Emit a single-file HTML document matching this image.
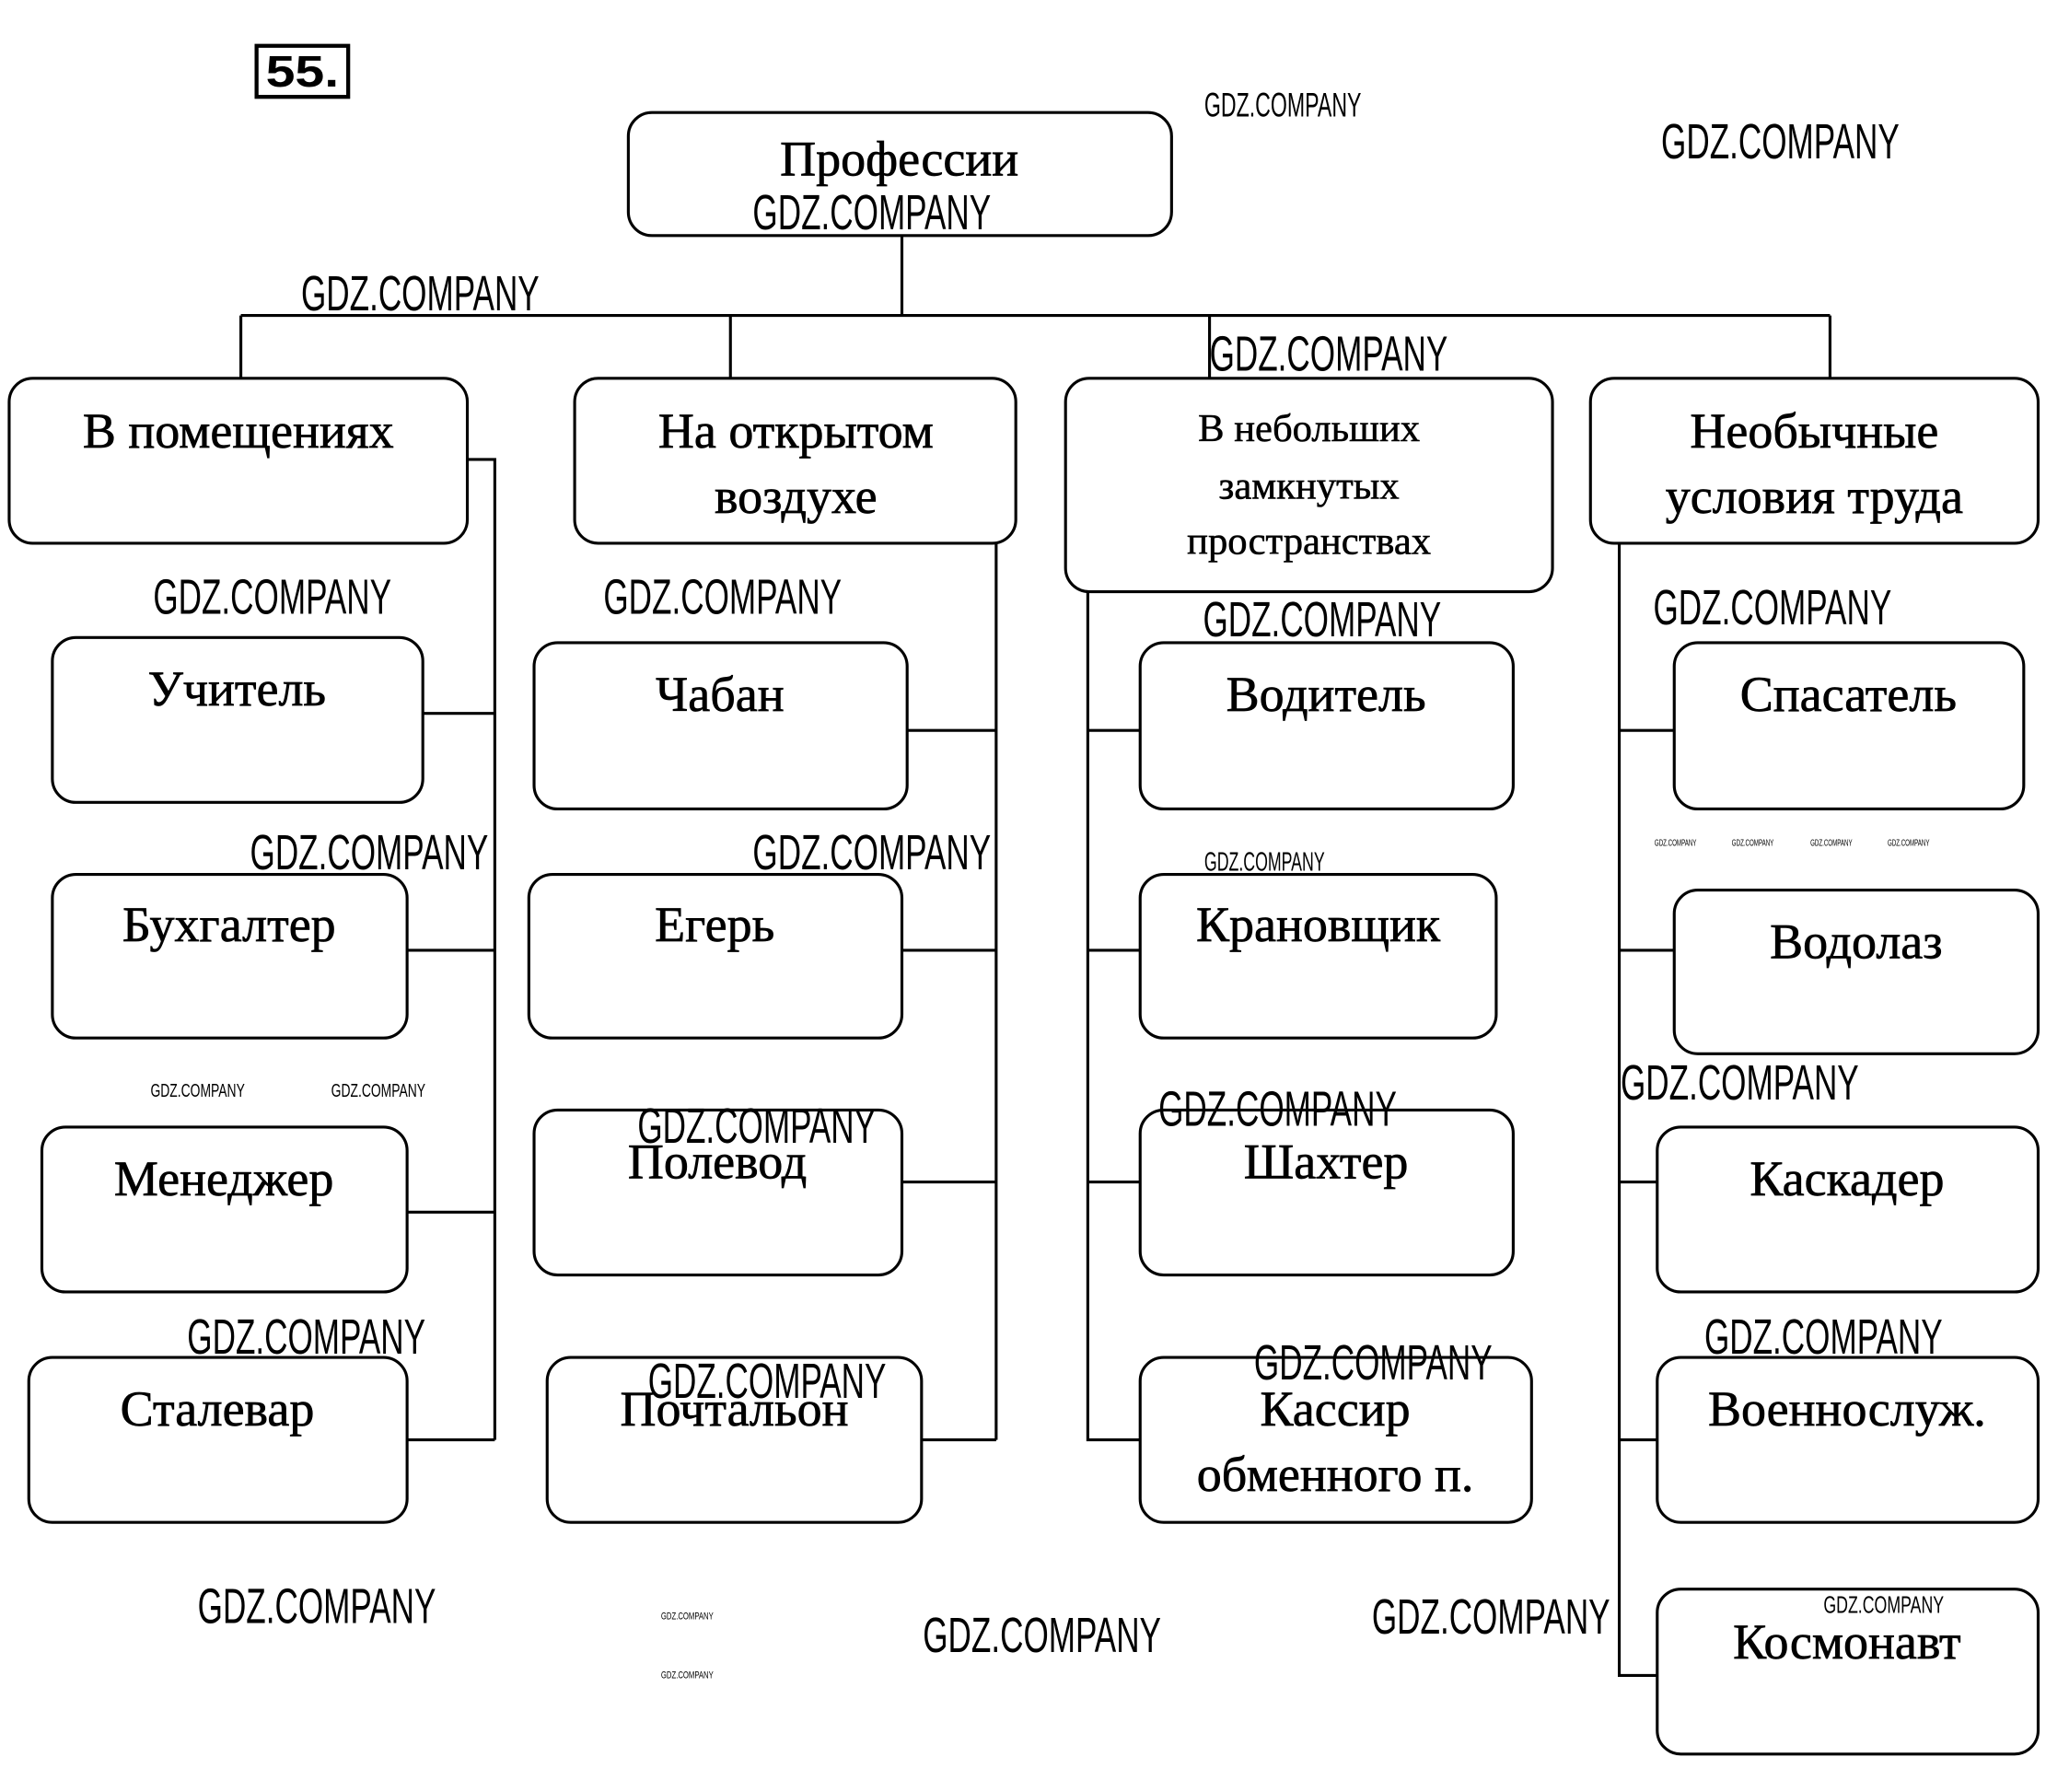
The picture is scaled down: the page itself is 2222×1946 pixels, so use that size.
<!DOCTYPE html>
<html><head><meta charset="utf-8"><style>
html,body{margin:0;padding:0;background:#fff}
svg{display:block}
.b{fill:none;stroke:#000;stroke-width:2.2}
.l{stroke:#000;stroke-width:2.2;fill:none}
.t{font-family:"Liberation Serif",serif;font-size:38px;text-anchor:middle;fill:#000;stroke:#000;stroke-width:0.5}
.c{font-family:"Liberation Serif",serif;font-size:38px;text-anchor:middle;fill:#000;stroke:#000;stroke-width:0.5}
.s{font-family:"Liberation Serif",serif;font-size:30px;text-anchor:middle;fill:#000;stroke:#000;stroke-width:0.4}
.w{font-family:"Liberation Sans",sans-serif;font-size:38px;fill:#000;font-weight:normal}
.ws{font-family:"Liberation Sans",sans-serif;font-size:12px;fill:#000}
</style></head><body>
<svg width="2222" height="1946" viewBox="0 0 1563 1369" preserveAspectRatio="none" xmlns="http://www.w3.org/2000/svg">
<rect x="196" y="35" width="70" height="39" fill="none" stroke="#000" stroke-width="3"/>
<text x="231" y="66" font-family="Liberation Sans,sans-serif" font-size="34" font-weight="bold" text-anchor="middle" textLength="56" lengthAdjust="spacingAndGlyphs">55.</text>

<rect class="b" x="480" y="86" width="415" height="94" rx="18"/>
<text class="t" x="687" y="134">Профессии</text>
<path class="l" d="M689 180V241M184 241H1398M184 241V289M558 241V289M924 241V289M1398 241V289"/>

<rect class="b" x="7" y="289" width="350" height="126" rx="18"/>
<text class="c" x="182" y="342">В помещениях</text>
<rect class="b" x="439" y="289" width="337" height="126" rx="18"/>
<text class="c" x="608" y="342">На открытом</text>
<text class="c" x="608" y="392">воздухе</text>
<rect class="b" x="814" y="289" width="372" height="163" rx="18"/>
<text class="s" x="1000" y="337">В небольших</text>
<text class="s" x="1000" y="381">замкнутых</text>
<text class="s" x="1000" y="423">пространствах</text>
<rect class="b" x="1215" y="289" width="342" height="126" rx="18"/>
<text class="c" x="1386" y="342">Необычные</text>
<text class="c" x="1386" y="392">условия труда</text>

<path class="l" d="M357 351H378V1100M323 545H378M311 726H378M311 926H378M311 1100H378"/>
<path class="l" d="M761 415V1100M693 558H761M689 726H761M689 903H761M704 1100H761"/>
<path class="l" d="M831 452V1100H871M831 558H871M831 726H871M831 903H871"/>
<path class="l" d="M1237 415V1280H1266M1237 558H1279M1237 726H1279M1237 903H1266M1237 1100H1266"/>

<rect class="b" x="40" y="487" width="283" height="126" rx="18"/><text class="c" x="181" y="539">Учитель</text>
<rect class="b" x="40" y="668" width="271" height="125" rx="18"/><text class="c" x="175" y="719">Бухгалтер</text>
<rect class="b" x="32" y="861" width="279" height="126" rx="18"/><text class="c" x="171" y="913">Менеджер</text>
<rect class="b" x="22" y="1037" width="289" height="126" rx="18"/><text class="c" x="166" y="1089">Сталевар</text>
<rect class="b" x="408" y="491" width="285" height="127" rx="18"/><text class="c" x="550" y="543">Чабан</text>
<rect class="b" x="404" y="668" width="285" height="125" rx="18"/><text class="c" x="546" y="719">Егерь</text>
<rect class="b" x="408" y="848" width="281" height="126" rx="18"/><text class="c" x="548" y="900">Полевод</text>
<rect class="b" x="418" y="1037" width="286" height="126" rx="18"/><text class="c" x="561" y="1089">Почтальон</text>
<rect class="b" x="871" y="491" width="285" height="127" rx="18"/><text class="c" x="1013" y="543">Водитель</text>
<rect class="b" x="871" y="668" width="272" height="125" rx="18"/><text class="c" x="1007" y="719">Крановщик</text>
<rect class="b" x="871" y="848" width="285" height="126" rx="18"/><text class="c" x="1013" y="900">Шахтер</text>
<rect class="b" x="871" y="1037" width="299" height="126" rx="18"/><text class="c" x="1020" y="1089">Кассир</text><text class="c" x="1020" y="1139">обменного п.</text>
<rect class="b" x="1279" y="491" width="267" height="127" rx="18"/><text class="c" x="1412" y="543">Спасатель</text>
<rect class="b" x="1279" y="680" width="278" height="125" rx="18"/><text class="c" x="1418" y="732">Водолаз</text>
<rect class="b" x="1266" y="861" width="291" height="126" rx="18"/><text class="c" x="1411" y="913">Каскадер</text>
<rect class="b" x="1266" y="1037" width="291" height="126" rx="18"/><text class="c" x="1411" y="1089">Военнослуж.</text>
<rect class="b" x="1266" y="1214" width="291" height="126" rx="18"/><text class="c" x="1411" y="1267">Космонавт</text>

<g class="w">
<text x="920" y="89" font-size="26" textLength="120" lengthAdjust="spacingAndGlyphs">GDZ.COMPANY</text>
<text x="1269" y="121" textLength="182" lengthAdjust="spacingAndGlyphs">GDZ.COMPANY</text>
<text x="575" y="175" textLength="182" lengthAdjust="spacingAndGlyphs">GDZ.COMPANY</text>
<text x="230" y="237" textLength="182" lengthAdjust="spacingAndGlyphs">GDZ.COMPANY</text>
<text x="924" y="283" textLength="182" lengthAdjust="spacingAndGlyphs">GDZ.COMPANY</text>
<text x="117" y="469" textLength="182" lengthAdjust="spacingAndGlyphs">GDZ.COMPANY</text>
<text x="461" y="469" textLength="182" lengthAdjust="spacingAndGlyphs">GDZ.COMPANY</text>
<text x="919" y="486" textLength="182" lengthAdjust="spacingAndGlyphs">GDZ.COMPANY</text>
<text x="1263" y="477" textLength="182" lengthAdjust="spacingAndGlyphs">GDZ.COMPANY</text>
<text x="191" y="664" textLength="182" lengthAdjust="spacingAndGlyphs">GDZ.COMPANY</text>
<text x="575" y="664" textLength="182" lengthAdjust="spacingAndGlyphs">GDZ.COMPANY</text>
<text x="920" y="665" font-size="20" textLength="92" lengthAdjust="spacingAndGlyphs">GDZ.COMPANY</text>
<text x="1238" y="840" textLength="182" lengthAdjust="spacingAndGlyphs">GDZ.COMPANY</text>
<text x="487" y="873" textLength="182" lengthAdjust="spacingAndGlyphs">GDZ.COMPANY</text>
<text x="885" y="860" textLength="182" lengthAdjust="spacingAndGlyphs">GDZ.COMPANY</text>
<text x="143" y="1034" textLength="182" lengthAdjust="spacingAndGlyphs">GDZ.COMPANY</text>
<text x="1302" y="1034" textLength="182" lengthAdjust="spacingAndGlyphs">GDZ.COMPANY</text>
<text x="958" y="1054" textLength="182" lengthAdjust="spacingAndGlyphs">GDZ.COMPANY</text>
<text x="495" y="1068" textLength="182" lengthAdjust="spacingAndGlyphs">GDZ.COMPANY</text>
<text x="151" y="1240" textLength="182" lengthAdjust="spacingAndGlyphs">GDZ.COMPANY</text>
<text x="705" y="1262" textLength="182" lengthAdjust="spacingAndGlyphs">GDZ.COMPANY</text>
<text x="1048" y="1248" textLength="182" lengthAdjust="spacingAndGlyphs">GDZ.COMPANY</text>
<text x="1393" y="1232" font-size="18" textLength="92" lengthAdjust="spacingAndGlyphs">GDZ.COMPANY</text>
<text x="115" y="838" font-size="14" textLength="72" lengthAdjust="spacingAndGlyphs">GDZ.COMPANY</text>
<text x="253" y="838" font-size="14" textLength="72" lengthAdjust="spacingAndGlyphs">GDZ.COMPANY</text>
</g>
<g class="ws">
<text x="1264" y="646" font-size="7" textLength="32" lengthAdjust="spacingAndGlyphs">GDZ.COMPANY</text>
<text x="1323" y="646" font-size="7" textLength="32" lengthAdjust="spacingAndGlyphs">GDZ.COMPANY</text>
<text x="1383" y="646" font-size="7" textLength="32" lengthAdjust="spacingAndGlyphs">GDZ.COMPANY</text>
<text x="1442" y="646" font-size="7" textLength="32" lengthAdjust="spacingAndGlyphs">GDZ.COMPANY</text>
<text x="505" y="1237" font-size="8" textLength="40" lengthAdjust="spacingAndGlyphs">GDZ.COMPANY</text>
<text x="505" y="1282" font-size="8" textLength="40" lengthAdjust="spacingAndGlyphs">GDZ.COMPANY</text>
</g>
</svg>
</body></html>
